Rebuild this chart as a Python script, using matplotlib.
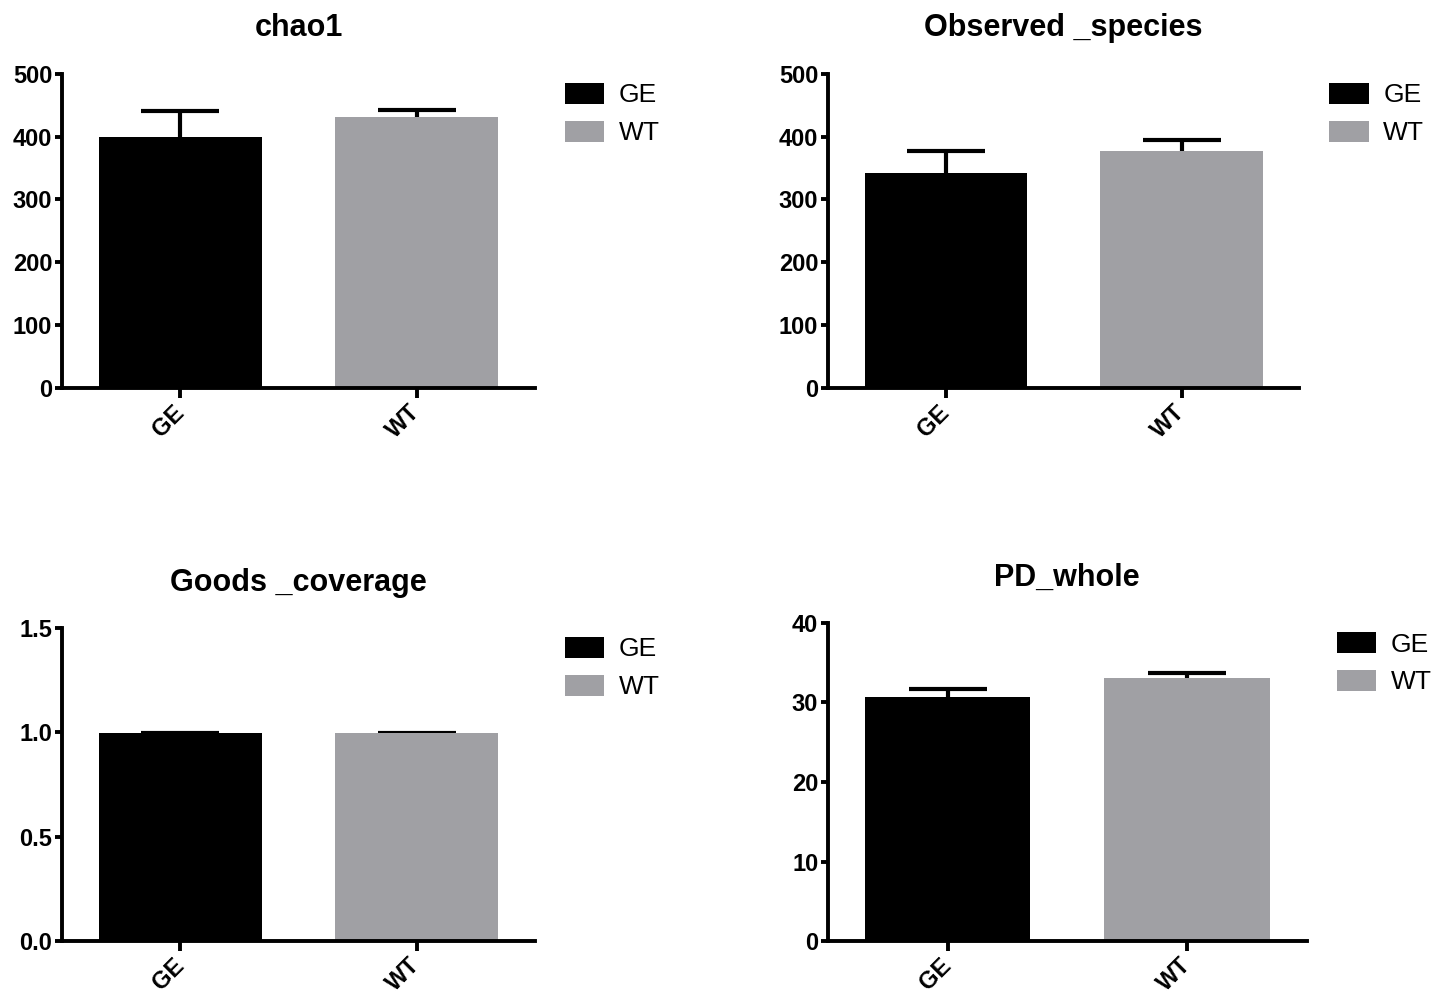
"""
Alpha diversity bar plots (GE vs WT) with mean + upward SEM bars
"""
import numpy as np
import matplotlib
matplotlib.use('Agg')
import matplotlib.pyplot as plt
from matplotlib.patches import Patch
from matplotlib.ticker import FormatStrFormatter

plt.rcParams['font.family'] = ['Liberation Sans', 'DejaVu Sans']

groups = ['GE', 'WT']
colors = ['#000000', '#a0a0a4']

chao1_mean = [400, 431]
chao1_err = [41, 12]

observed_mean = [342, 377]
observed_err = [36, 18]

goods_mean = [0.999, 0.996]
goods_err = [0.0, 0.001]

pd_mean = [30.7, 33.1]
pd_err = [1.0, 0.6]


def plot_panel(rect, title, means, errs, ymax, yticks, fmt):
    """
    Draw one bar panel at figure rect [left, bottom, width, height]
    """
    ax = fig.add_axes(rect)
    x = np.arange(len(groups))
    ax.bar(x, means, width=0.69, color=colors, zorder=2)
    # only the upper half of the error bar is shown
    lower = np.zeros(len(errs))
    eb = ax.errorbar(x, means, yerr=[lower, errs], fmt='none', ecolor='black',
                     elinewidth=3.0, capsize=28, capthick=3.0, zorder=1)
    eb[1][0].set_visible(False)   # drop the cap at the mean
    ax.set_xlim(-0.5, 1.5)
    ax.set_ylim(0, ymax)
    ax.set_yticks(yticks)
    ax.yaxis.set_major_formatter(FormatStrFormatter(fmt))
    ax.set_xticks(x)
    ax.set_xticklabels(groups, rotation=45, ha='right', va='center',
                       rotation_mode='anchor', fontweight='bold', fontsize=17)
    for lab in ax.get_yticklabels():
        lab.set_fontweight('bold')
        lab.set_fontsize(17)
    ax.spines['top'].set_visible(False)
    ax.spines['right'].set_visible(False)
    ax.spines['left'].set_linewidth(2.8)
    ax.spines['bottom'].set_linewidth(2.8)
    ax.spines['left'].set_zorder(3)
    ax.tick_params(axis='y', length=5, width=2.8, pad=2)
    ax.tick_params(axis='x', length=7, width=2.8, pad=8)
    ax.set_title(title, fontsize=22, fontweight='bold', pad=27)
    handles = [Patch(facecolor=c, edgecolor='none') for c in colors]
    ax.legend(handles, groups, loc='upper left', bbox_to_anchor=(1.063, 0.972),
              frameon=False, handlelength=1.5, handleheight=0.85,
              handletextpad=0.55, labelspacing=0.5, borderpad=0,
              borderaxespad=0, fontsize=19)
    return ax


fig = plt.figure(figsize=(14.46, 9.92), dpi=100)

plot_panel([0.0429, 0.609, 0.327, 0.3165], 'chao1', chao1_mean, chao1_err,
           500, [0, 100, 200, 300, 400, 500], '%d')
plot_panel([0.5726, 0.609, 0.326, 0.3165], 'Observed _species', observed_mean,
           observed_err, 500, [0, 100, 200, 300, 400, 500], '%d')
plot_panel([0.0429, 0.0514, 0.327, 0.3155], 'Goods _coverage', goods_mean,
           goods_err, 1.5, [0.0, 0.5, 1.0, 1.5], '%.1f')
plot_panel([0.5726, 0.0514, 0.331, 0.3206], 'PD_whole', pd_mean, pd_err,
           40, [0, 10, 20, 30, 40], '%d')

plt.savefig('out.png', dpi=100)
